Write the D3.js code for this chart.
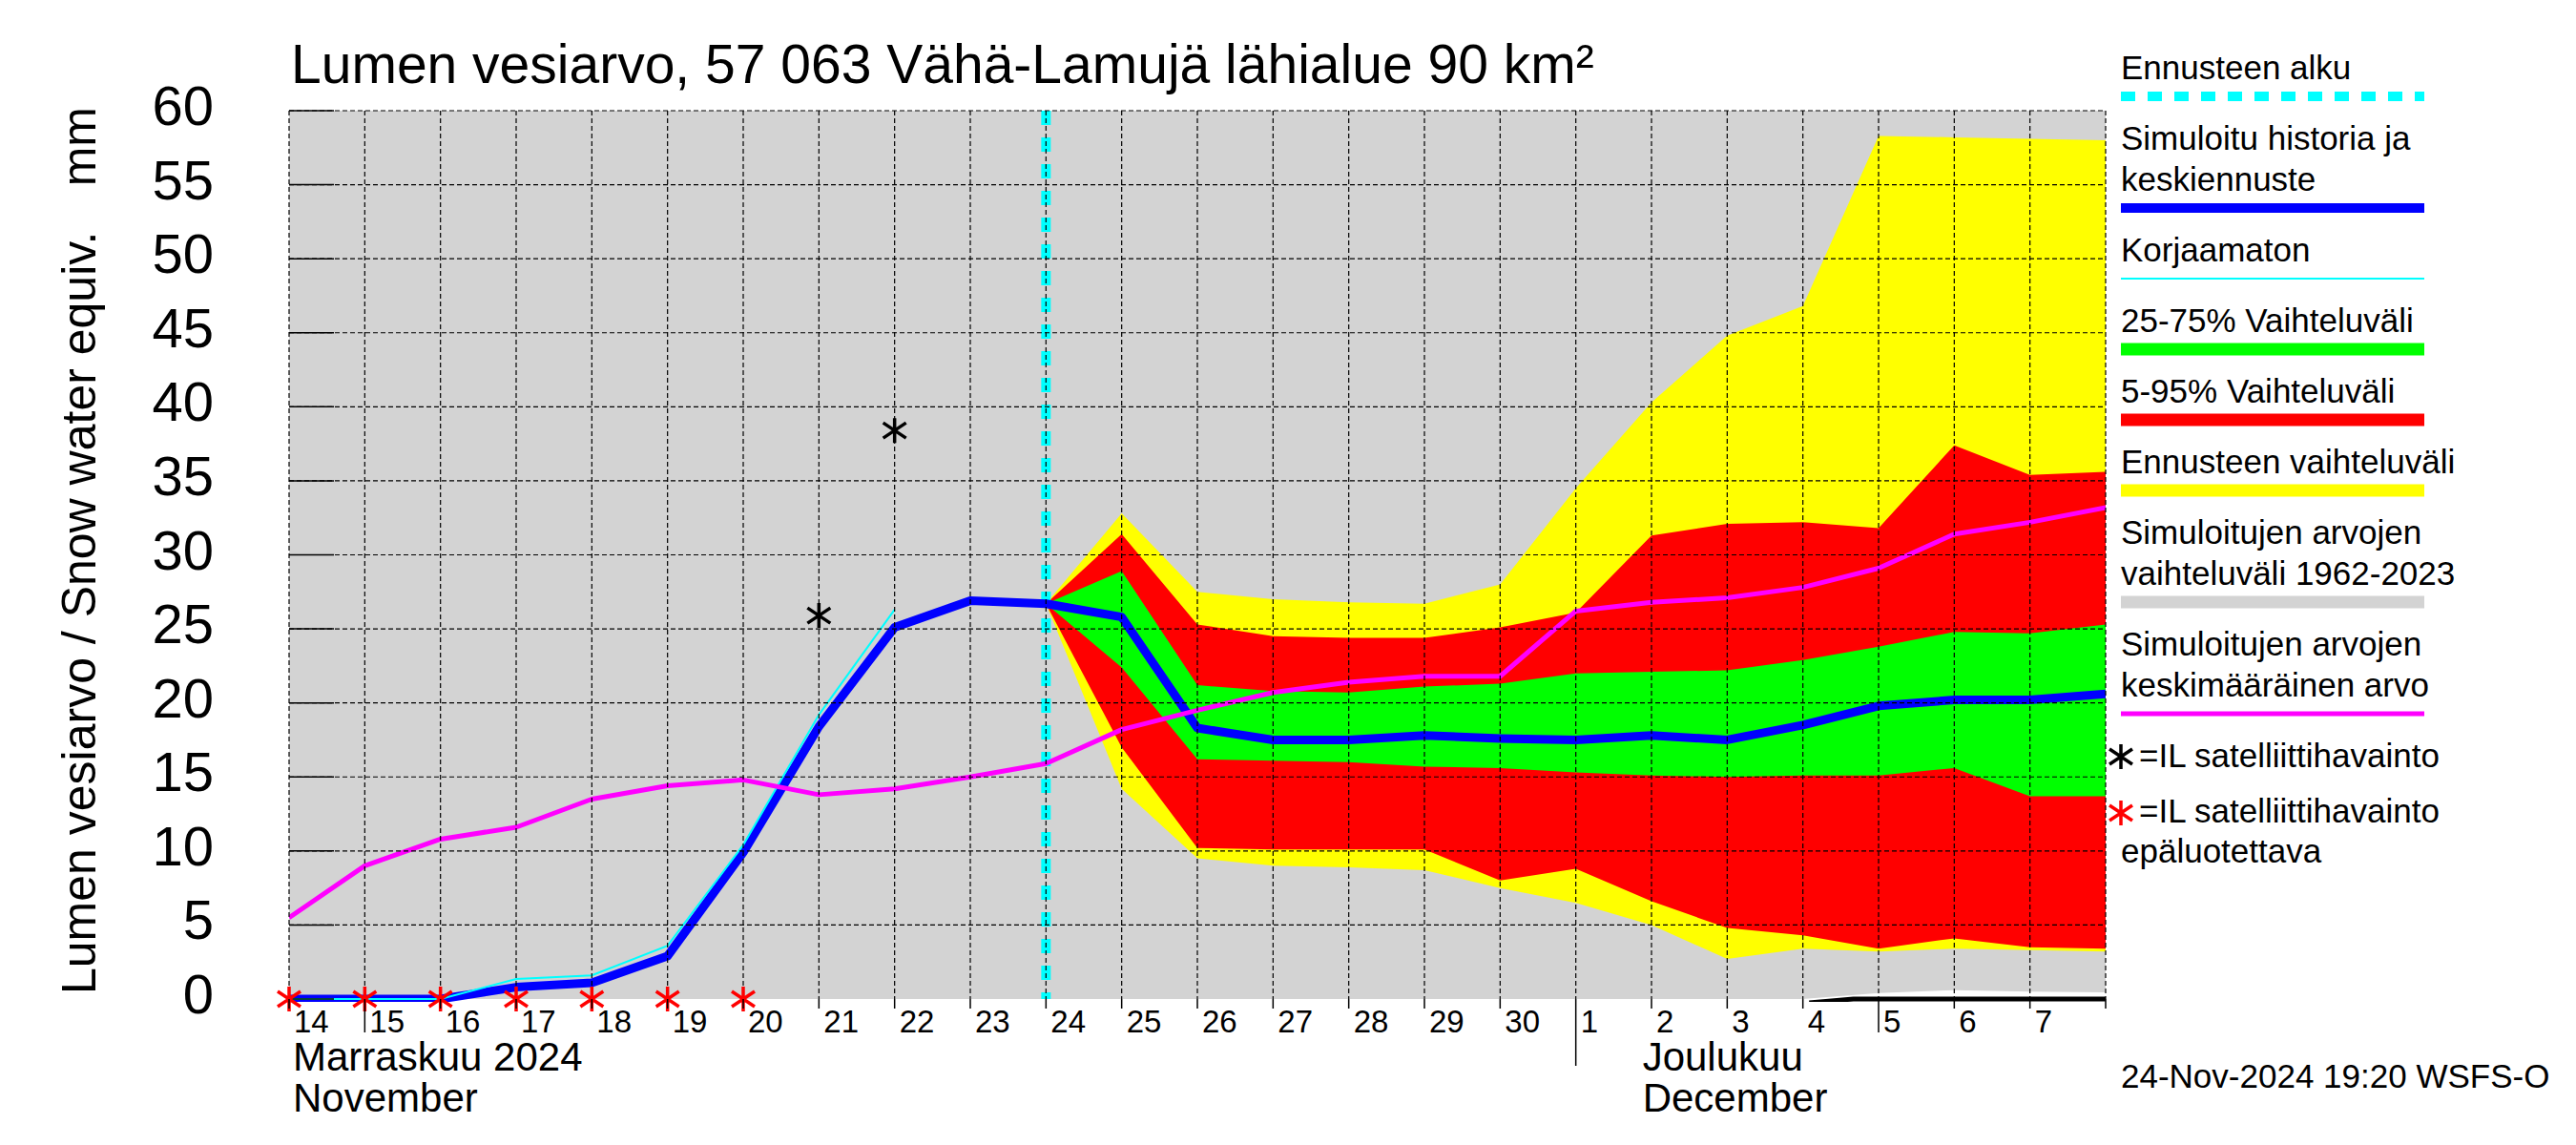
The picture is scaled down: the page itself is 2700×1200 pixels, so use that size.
<!DOCTYPE html>
<html>
<head>
<meta charset="utf-8">
<script src="https://cdn.jsdelivr.net/npm/d3@7"></script>
<style>
  body { margin: 0; background: #fff; }
  text { font-family: "Liberation Sans", Arial, Helvetica, sans-serif; fill: #000; }
</style>
</head>
<body>
<svg id="chart" width="2700" height="1200"></svg>
<script>
// ---- data (mm) ----
const days = ["2024-11-14", "2024-11-15", "2024-11-16", "2024-11-17", "2024-11-18", "2024-11-19",
  "2024-11-20", "2024-11-21", "2024-11-22", "2024-11-23", "2024-11-24", "2024-11-25", "2024-11-26",
  "2024-11-27", "2024-11-28", "2024-11-29", "2024-11-30", "2024-12-01", "2024-12-02", "2024-12-03",
  "2024-12-04", "2024-12-05", "2024-12-06", "2024-12-07", "2024-12-08"];

// simulated history + median forecast
const simulated = [0, 0, 0, 0.8, 1.1, 2.9, 9.9, 18.4, 25.1, 26.9, 26.7, 25.8, 18.3,
  17.5, 17.5, 17.8, 17.6, 17.5, 17.8, 17.5, 18.5, 19.8, 20.2, 20.2, 20.6];
// uncorrected (Korjaamaton), Nov 14 - Nov 22
const uncorrected = [0, 0, 0, 1.35, 1.6, 3.6, 10.4, 19.2, 26.3];
// mean of simulated values 1962-2023
const meanHist = [5.5, 9.0, 10.8, 11.6, 13.5, 14.4, 14.8, 13.8, 14.2, 15.0, 15.9, 18.2, 19.5,
  20.7, 21.4, 21.8, 21.8, 26.2, 26.8, 27.1, 27.8, 29.1, 31.4, 32.2, 33.2];
// range of simulated values 1962-2023
const histMin = [0, 0, 0, 0, 0, 0, 0, 0, 0, 0, 0, 0, 0, 0, 0, 0, 0, 0, 0, 0, 0, 0.4, 0.6, 0.5, 0.45];
const histMax = [70, 70, 70, 70, 70, 70, 70, 70, 70, 70, 70, 70, 70, 70, 70, 70, 70, 70, 70, 70, 70, 70, 70, 70, 70];

// forecast, Nov 24 - Dec 8
const fcDays = days.slice(10);
const fcMax = [26.7, 32.8, 27.5, 27.0, 26.8, 26.7, 28.0, 34.5, 40.3, 44.8, 46.8, 58.3, 58.2, 58.1, 58.0];
const fcMin = [26.7, 14.2, 9.5, 9.0, 8.9, 8.7, 7.5, 6.5, 5.0, 2.7, 3.4, 3.2, 3.4, 3.3, 3.2];
const p95 = [26.7, 31.4, 25.3, 24.5, 24.4, 24.4, 25.1, 26.1, 31.3, 32.1, 32.2, 31.8, 37.4, 35.4, 35.6];
const p05 = [26.7, 17.0, 10.2, 10.1, 10.1, 10.1, 8.0, 8.8, 6.6, 4.8, 4.3, 3.4, 4.1, 3.5, 3.4];
const p75 = [26.7, 28.9, 21.2, 20.8, 20.7, 21.1, 21.3, 22.0, 22.1, 22.2, 22.9, 23.8, 24.8, 24.7, 25.3];
const p25 = [26.7, 22.4, 16.2, 16.1, 16.0, 15.7, 15.6, 15.3, 15.1, 15.0, 15.1, 15.1, 15.6, 13.7, 13.7];

// black base line near zero at the end
const baseDays = ["2024-12-04T02:00Z", "2024-12-04T16:00Z", "2024-12-08T00:00Z"];
const baseVals = [-0.25, 0, 0];

// satellite observations
const satDays = ["2024-11-21", "2024-11-22"];
const satVals = [25.9, 38.4];
const satBadDays = ["2024-11-14", "2024-11-15", "2024-11-16", "2024-11-17", "2024-11-18", "2024-11-19", "2024-11-20"];
const satBadVals = [0, 0, 0, 0, 0, 0, 0];

const forecastStart = "2024-11-24";
const yTicks = [0, 5, 10, 15, 20, 25, 30, 35, 40, 45, 50, 55, 60];
const monthLabels = [
  { day: "2024-11-14", lines: ["Marraskuu 2024", "November"] },
  { day: "2024-12-01", lines: ["Joulukuu", "December"] }
];

const legendItems = [
  { lines: ["Ennusteen alku"], color: "#00ffff", width: 10, dash: "15,13" },
  { lines: ["Simuloitu historia ja", "keskiennuste"], color: "#0000ff", width: 10 },
  { lines: ["Korjaamaton"], color: "#00ffff", width: 2 },
  { lines: ["25-75% Vaihteluväli"], color: "#00ff00", width: 13 },
  { lines: ["5-95% Vaihteluväli"], color: "#ff0000", width: 13 },
  { lines: ["Ennusteen vaihteluväli"], color: "#ffff00", width: 13 },
  { lines: ["Simuloitujen arvojen", "vaihteluväli 1962-2023"], color: "#d3d3d3", width: 13 },
  { lines: ["Simuloitujen arvojen", "keskimääräinen arvo"], color: "#ff00ff", width: 5 }
];

// ---- chart ----
const parse = s => new Date(s.length > 10 ? s : s + "T00:00:00Z");
const svg = d3.select("#chart");

const x = d3.scaleUtc()
  .domain([parse(days[0]), parse(days[days.length - 1])])
  .range([303, 2207]);
const y = d3.scaleLinear().domain([0, 60]).range([1047, 116]);

svg.append("clipPath").attr("id", "plotclip")
  .append("rect")
  .attr("x", x.range()[0]).attr("y", y(60))
  .attr("width", x.range()[1] - x.range()[0])
  .attr("height", y(0) - y(60) + 3);

const plot = svg.append("g").attr("clip-path", "url(#plotclip)");

function band(dd, lo, hi){
  return dd.map((d, i) => ({ date: parse(d), lo: lo[i], hi: hi[i] }));
}
const area = d3.area()
  .x(d => x(d.date))
  .y0(d => y(d.lo))
  .y1(d => y(d.hi));

plot.append("path").datum(band(days, histMin, histMax)).attr("d", area).attr("fill", "#d3d3d3");
plot.append("path").datum(band(fcDays, fcMin, fcMax)).attr("d", area).attr("fill", "#ffff00");
plot.append("path").datum(band(fcDays, p05, p95)).attr("d", area).attr("fill", "#ff0000");
plot.append("path").datum(band(fcDays, p25, p75)).attr("d", area).attr("fill", "#00ff00");

// forecast start
plot.append("line")
  .attr("x1", x(parse(forecastStart))).attr("x2", x(parse(forecastStart)))
  .attr("y1", y(60)).attr("y2", y(0))
  .attr("stroke", "#00ffff").attr("stroke-width", 10)
  .attr("stroke-dasharray", "15,13");

// grid
const dayTicks = d3.utcDay.range(x.domain()[0], d3.utcDay.offset(x.domain()[1], 1));
const grid = svg.append("g").attr("stroke", "#000").attr("stroke-width", 1.2)
  .attr("stroke-dasharray", "5,3").attr("fill", "none");
grid.selectAll("line.v").data(dayTicks).enter().append("line")
  .attr("x1", d => x(d)).attr("x2", d => x(d))
  .attr("y1", y(60)).attr("y2", y(0));
grid.selectAll("line.h").data(yTicks.filter(t => t > 0)).enter().append("line")
  .attr("x1", x.range()[0]).attr("x2", x.range()[1])
  .attr("y1", d => y(d)).attr("y2", d => y(d));

// inner y ticks
svg.append("g").selectAll("line").data(yTicks).enter().append("line")
  .attr("x1", x.range()[0]).attr("x2", x.range()[0] + 47)
  .attr("y1", d => y(d)).attr("y2", d => y(d))
  .attr("stroke", "#000").attr("stroke-width", 1.5);

// lines
const line = d3.line().x(d => x(d.date)).y(d => y(d.v));
const series = (dd, vv) => vv.map((v, i) => ({ date: parse(dd[i]), v }));

plot.append("path").datum(series(days, simulated)).attr("d", line)
  .attr("fill", "none").attr("stroke", "#0000ff").attr("stroke-width", 9)
  .attr("stroke-linejoin", "round");
plot.append("path").datum(series(days, uncorrected)).attr("d", line)
  .attr("fill", "none").attr("stroke", "#00ffff").attr("stroke-width", 2);
plot.append("path").datum(series(days, meanHist)).attr("d", line)
  .attr("fill", "none").attr("stroke", "#ff00ff").attr("stroke-width", 5)
  .attr("stroke-linejoin", "round");
plot.append("path").datum(series(baseDays, baseVals)).attr("d", line)
  .attr("fill", "none").attr("stroke", "#000").attr("stroke-width", 5);

// asterisks
const star = "M0,-13L0,13M-12,-8L12,8M-12,8L12,-8";
svg.append("g").selectAll("path").data(series(satDays, satVals)).enter().append("path")
  .attr("d", star).attr("transform", d => `translate(${x(d.date)},${y(d.v)})`)
  .attr("stroke", "#000").attr("stroke-width", 3.5).attr("fill", "none");
svg.append("g").selectAll("path").data(series(satBadDays, satBadVals)).enter().append("path")
  .attr("d", star).attr("transform", d => `translate(${x(d.date)},${y(d.v)})`)
  .attr("stroke", "#ff0000").attr("stroke-width", 3.5).attr("fill", "none");

// y axis labels
svg.append("g").selectAll("text").data(yTicks).enter().append("text")
  .attr("x", 224).attr("y", d => y(d) + 15)
  .attr("text-anchor", "end").attr("font-size", 58)
  .text(d => d);

svg.append("text")
  .attr("transform", "translate(100,1042) rotate(-90)")
  .attr("font-size", 50)
  .text("Lumen vesiarvo / Snow water equiv.");
svg.append("text")
  .attr("transform", "translate(100,112) rotate(-90)")
  .attr("font-size", 50).attr("text-anchor", "end")
  .text("mm");

// x axis ticks and labels
const fmtDay = d3.utcFormat("%-d");
svg.append("g").selectAll("line").data(dayTicks).enter().append("line")
  .attr("x1", d => x(d)).attr("x2", d => x(d))
  .attr("y1", y(0))
  .attr("y2", d => {
    const n = d.getUTCDate();
    if (n === 1) return 1117;
    if (n === 15 || n === 5) return 1082;
    return 1057;
  })
  .attr("stroke", "#000").attr("stroke-width", 1.5);

svg.append("g").selectAll("text").data(dayTicks.slice(0, -1)).enter().append("text")
  .attr("x", d => x(d) + 5).attr("y", 1082)
  .attr("font-size", 33)
  .text(d => fmtDay(d));

monthLabels.forEach(m => {
  const x0 = m.day === days[0] ? x(parse(m.day)) + 4 : x(parse(m.day)) + 70;
  m.lines.forEach((t, i) => {
    svg.append("text").attr("x", x0).attr("y", 1122 + i * 43)
      .attr("font-size", 42).text(t);
  });
});

// title
svg.append("text").attr("x", 305).attr("y", 87).attr("font-size", 57)
  .text("Lumen vesiarvo, 57 063 Vähä-Lamujä lähialue 90 km²");

// legend
const lg = svg.append("g");
let ly = 83;
legendItems.forEach(item => {
  item.lines.forEach((t, i) => {
    lg.append("text").attr("x", 2223).attr("y", ly + i * 43).attr("font-size", 35).text(t);
  });
  const lineY = ly + (item.lines.length - 1) * 43 + 18;
  lg.append("line")
    .attr("x1", 2223).attr("x2", 2541)
    .attr("y1", lineY).attr("y2", lineY)
    .attr("stroke", item.color).attr("stroke-width", item.width)
    .attr("stroke-dasharray", item.dash || null);
  ly = lineY + 56;
});

lg.append("path").attr("d", star).attr("transform", "translate(2223,793)")
  .attr("stroke", "#000").attr("stroke-width", 3.5).attr("fill", "none");
lg.append("text").attr("x", 2242).attr("y", 804).attr("font-size", 35).text("=IL satelliittihavainto");
lg.append("path").attr("d", star).attr("transform", "translate(2223,852)")
  .attr("stroke", "#ff0000").attr("stroke-width", 3.5).attr("fill", "none");
lg.append("text").attr("x", 2242).attr("y", 862).attr("font-size", 35).text("=IL satelliittihavainto");
lg.append("text").attr("x", 2223).attr("y", 904).attr("font-size", 35).text("epäluotettava");

// footer
svg.append("text").attr("x", 2223).attr("y", 1140).attr("font-size", 35)
  .text("24-Nov-2024 19:20 WSFS-O");
</script>
</body>
</html>
